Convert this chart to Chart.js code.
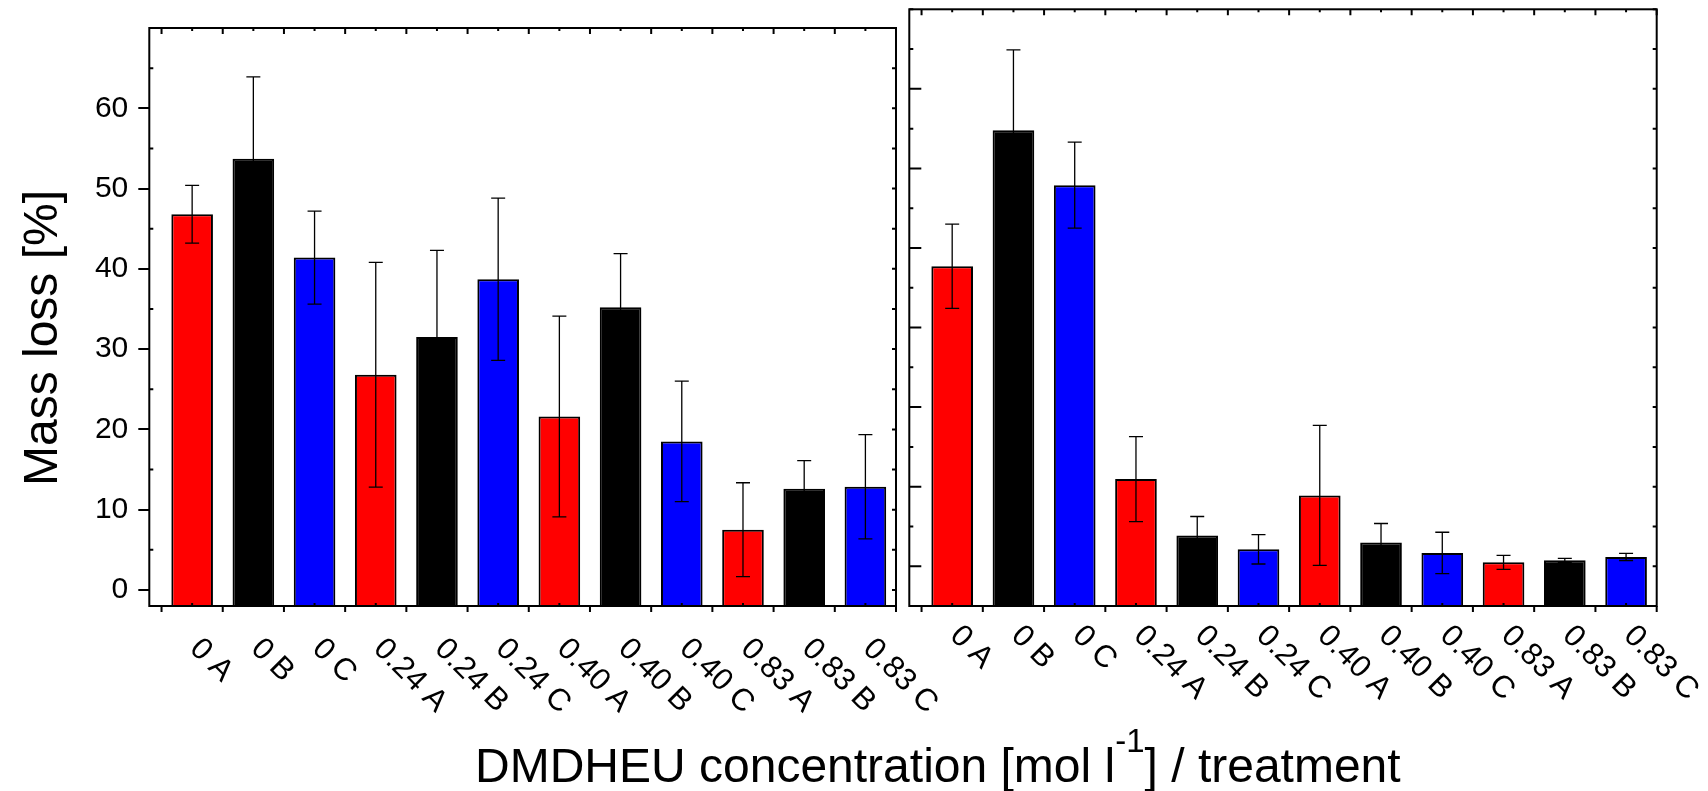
<!DOCTYPE html>
<html>
<head>
<meta charset="utf-8">
<title>DMDHEU mass loss</title>
<script src="https://cdn.jsdelivr.net/npm/chart.js@4.4.1/dist/chart.umd.min.js"></script>
<style>
  body { margin: 0; background: #fff; }
  #wrap { position: relative; width: 1708px; height: 791px; }
  #wrap canvas { position: absolute; left: 0; top: 0; }
</style>
</head>
<body>
<div id="wrap">
  <canvas id="leftPanel" width="1708" height="791"></canvas>
  <canvas id="rightPanel" width="1708" height="791"></canvas>
</div>
<script>
const categories = ['0 A', '0 B', '0 C', '0.24 A', '0.24 B', '0.24 C',
                    '0.40 A', '0.40 B', '0.40 C', '0.83 A', '0.83 B', '0.83 C'];
const treatmentColors = ['#ff0000', '#000000', '#0000ff'];   // A, B, C

const leftLoss  = [46.8, 53.7, 41.4, 26.8, 31.5, 38.7, 21.6, 35.2, 18.5, 7.5, 12.6, 12.85];
const leftErr   = [3.6, 10.2, 5.8, 14.0, 10.8, 10.1, 12.5, 6.7, 7.5, 5.85, 3.5, 6.5];
const rightLoss = [37.7, 54.8, 47.9, 10.95, 3.85, 2.13, 8.9, 2.97, 1.67, 0.49, 0.74, 1.17];
const rightErr  = [5.3, 10.1, 5.4, 5.35, 2.4, 1.85, 8.8, 2.4, 2.6, 0.88, 0.25, 0.45];

const yTicks = [0, 10, 20, 30, 40, 50, 60];

const FONT = '"Liberation Sans", Arial, Helvetica, sans-serif';
Chart.defaults.font.family = FONT;
Chart.defaults.color = '#000';

// error bars, frame, tick marks and rotated category labels
const panelDecor = {
  id: 'panelDecor',
  afterDatasetsDraw(chart, args, opts) {
    const ctx = chart.ctx;
    const y = chart.scales.y;
    const bars = chart.getDatasetMeta(0).data;
    ctx.save();
    ctx.strokeStyle = '#000';
    ctx.lineWidth = 1.3;
    bars.forEach((bar, i) => {
      const v = opts.values[i], e = opts.errors[i];
      const yt = y.getPixelForValue(v + e);
      const yb = y.getPixelForValue(v - e);
      ctx.beginPath();
      ctx.moveTo(bar.x, yt); ctx.lineTo(bar.x, yb);
      ctx.moveTo(bar.x - 7, yt); ctx.lineTo(bar.x + 7, yt);
      ctx.moveTo(bar.x - 7, yb); ctx.lineTo(bar.x + 7, yb);
      ctx.stroke();
    });
    ctx.restore();
  },
  afterDraw(chart, args, opts) {
    const ctx = chart.ctx;
    const a = chart.chartArea;
    const x = chart.scales.x, y = chart.scales.y;
    ctx.save();
    ctx.strokeStyle = '#000';
    ctx.lineWidth = 2;
    ctx.strokeRect(a.left, a.top, a.right - a.left, a.bottom - a.top);

    ctx.beginPath();
    // y ticks: 5-unit steps on both sides
    for (let v = 0; v <= y.max; v += 5) {
      const py = y.getPixelForValue(v);
      const major = v % 10 === 0 && v <= 60;
      if (major && opts.innerMajor) {
        ctx.moveTo(a.left, py); ctx.lineTo(a.left + 12, py);
      } else if (!major) {
        ctx.moveTo(a.left, py); ctx.lineTo(a.left + 4, py);
      }
      ctx.moveTo(a.right, py); ctx.lineTo(a.right - 4, py);
    }
    // x ticks: category borders and centres
    for (let i = 0; i <= categories.length; i++) {
      const pb = x.getPixelForValue(i + 0.5);
      ctx.moveTo(pb, a.bottom); ctx.lineTo(pb, a.bottom + 6);
      ctx.moveTo(pb, a.top); ctx.lineTo(pb, a.top + 6);
      if (i < categories.length) {
        const pc = x.getPixelForValue(i + 1);
        ctx.moveTo(pc, a.bottom); ctx.lineTo(pc, a.bottom - 3);
        ctx.moveTo(pc, a.top); ctx.lineTo(pc, a.top + 3);
      }
    }
    ctx.stroke();

    ctx.fillStyle = '#000';
    ctx.font = '31px ' + FONT;
    ctx.textAlign = 'left';
    ctx.textBaseline = 'middle';
    categories.forEach((c, i) => {
      ctx.save();
      ctx.translate(x.getPixelForValue(i + 1) + 2.5, a.bottom + opts.labelDrop);
      ctx.rotate(Math.PI / 4);
      ctx.fillText(c, 0, 0);
      ctx.restore();
    });

    if (opts.titles) {
      ctx.font = '48px ' + FONT;
      ctx.textBaseline = 'alphabetic';
      ctx.save();
      ctx.translate(56.7, 338);
      ctx.rotate(-Math.PI / 2);
      ctx.textAlign = 'center';
      ctx.fillText('Mass loss [%]', 0, 0);
      ctx.restore();

      // x title with superscript unit
      const partA = 'DMDHEU concentration [mol l';
      const sup = '-1';
      const partB = '] / treatment';
      ctx.textAlign = 'left';
      let tx = 475, base = 782;
      ctx.fillText(partA, tx, base);
      tx += ctx.measureText(partA).width;
      ctx.font = '33px ' + FONT;
      ctx.fillText(sup, tx, base - 30);
      tx += ctx.measureText(sup).width;
      ctx.font = '48px ' + FONT;
      ctx.fillText(partB, tx, base);
    }
    ctx.restore();
  }
};

function makePanel(id, values, errors, yMin, area, showLabels, labelDrop) {
  const W = 1708, H = 791;
  const yScale = {
    display: showLabels,
    min: yMin,
    max: 70,
    afterBuildTicks: sc => { sc.ticks = yTicks.map(v => ({ value: v })); },
    border: { display: false },
    grid: {
      drawOnChartArea: false,
      drawTicks: true,
      tickLength: 11,
      color: '#000',
      lineWidth: 2
    },
    ticks: {
      padding: 10,
      color: '#000',
      font: { size: 30 }
    }
  };
  if (showLabels) {
    yScale.afterFit = sc => { sc.width = area.left; };
  }
  return new Chart(document.getElementById(id), {
    type: 'bar',
    data: {
      datasets: [{
        data: values.map((v, i) => ({ x: i + 1, y: v })),
        backgroundColor: values.map((v, i) => treatmentColors[i % 3]),
        borderColor: '#000',
        borderWidth: 2,
        base: yMin,
        barPercentage: 0.85,
        categoryPercentage: 0.8
      }]
    },
    options: {
      responsive: false,
      animation: false,
      devicePixelRatio: 1,
      layout: {
        padding: {
          left: showLabels ? 0 : area.left,
          right: W - area.right,
          top: area.top,
          bottom: H - area.bottom
        }
      },
      plugins: {
        legend: { display: false },
        tooltip: { enabled: false },
        panelDecor: {
          values: values, errors: errors,
          innerMajor: !showLabels, titles: showLabels, labelDrop: labelDrop
        }
      },
      scales: {
        x: {
          type: 'linear',
          display: false,
          offset: false,
          min: 0.3,
          max: 12.5
        },
        y: yScale
      }
    },
    plugins: [panelDecor]
  });
}

makePanel('leftPanel', leftLoss, leftErr, -2,
  { left: 149.3, right: 896, top: 9.3, bottom: 606 }, true, 38);
makePanel('rightPanel', rightLoss, rightErr, -5,
  { left: 909.3, right: 1656.7, top: 9.3, bottom: 606 }, false, 25);
</script>
</body>
</html>
